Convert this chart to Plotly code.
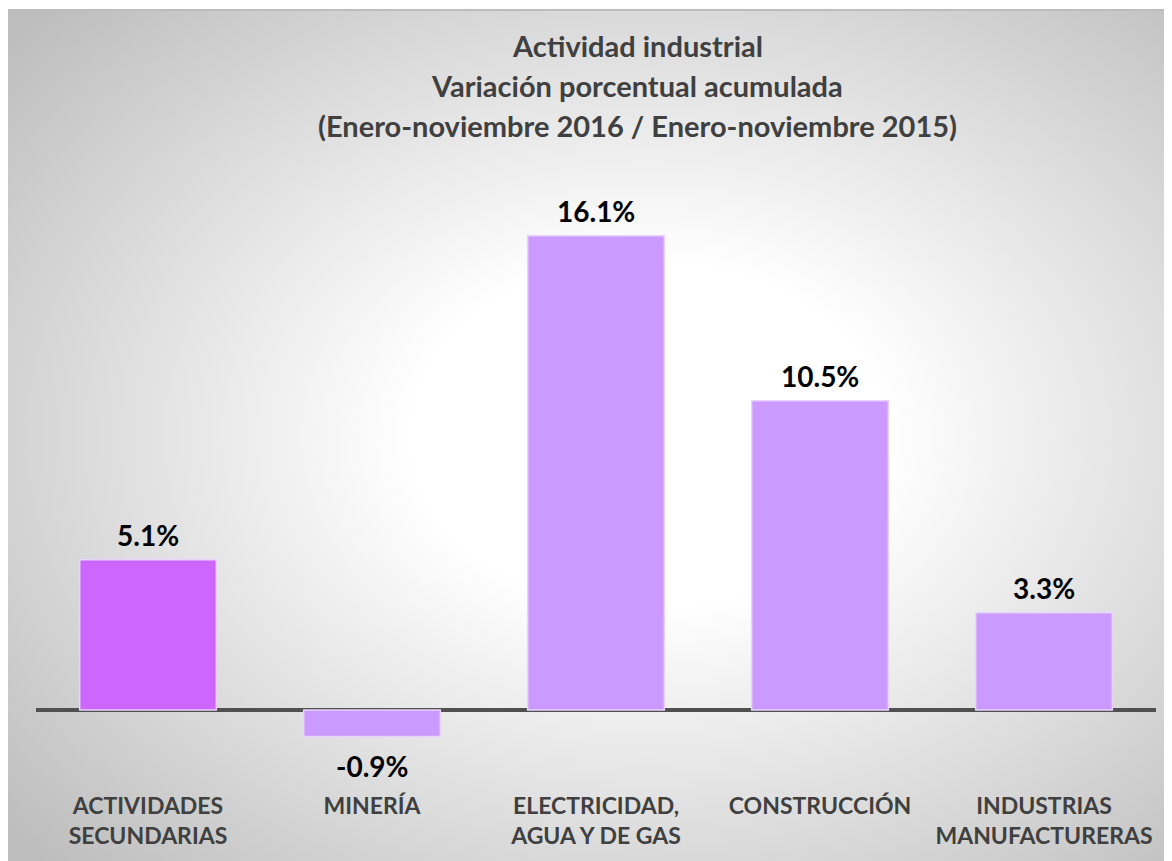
import urllib.parse
import plotly.graph_objects as go

# ---- data ----
CATEGORIES = [
    "ACTIVIDADES<br>SECUNDARIAS",
    "MINERÍA",
    "ELECTRICIDAD,<br>AGUA Y DE GAS",
    "CONSTRUCCIÓN",
    "INDUSTRIAS<br>MANUFACTURERAS",
]
VALUES = [5.1, -0.9, 16.1, 10.5, 3.3]
TITLE_LINES = [
    "Actividad industrial",
    "Variación porcentual acumulada",
    "(Enero-noviembre 2016 / Enero-noviembre 2015)",
]

# ---- styles ----
BAR_COLORS = ["#CC66FF", "#CC99FF", "#CC99FF", "#CC99FF", "#CC99FF"]
FONT = "Lato"
OFF = 8  # page body margin
W, H = 1172 - OFF, 861 - OFF
ML, MR, MT, MB = 36 - OFF, 16, 160 - OFF, 71
PW, PH = W - ML - MR, H - MT - MB


def sx(px):  # screen x -> paper x
    return (px - OFF - ML) / PW


def sy(py):  # screen y -> paper y
    return (H - MB - (py - OFF)) / PH


svg = (
    '<svg xmlns="http://www.w3.org/2000/svg" width="1166" height="852" '
    'viewBox="0 0 1166 852" preserveAspectRatio="none">'
    '<defs><radialGradient id="g" cx="0.55" cy="0.5" r="0.72" '
    'gradientUnits="objectBoundingBox">'
    '<stop offset="0" stop-color="#ffffff"/>'
    '<stop offset="0.28" stop-color="#ffffff"/>'
    '<stop offset="1" stop-color="#bdbdbd"/>'
    '</radialGradient></defs>'
    '<rect x="0" y="0" width="1166" height="852" fill="url(#g)"/></svg>'
)
svg_uri = "data:image/svg+xml;charset=utf-8," + urllib.parse.quote(svg)

fig = go.Figure(
    go.Bar(
        x=CATEGORIES,
        y=VALUES,
        marker=dict(color=BAR_COLORS, line=dict(color="#E8D2FF", width=1.5)),
        cliponaxis=False,
        width=0.61,
    )
)

for cat, v in zip(CATEGORIES, VALUES):
    fig.add_annotation(
        x=cat, y=v, xref="x", yref="y",
        text=f"{v:.1f}%", showarrow=False,
        yanchor="bottom" if v >= 0 else "top",
        yshift=6 if v >= 0 else -10,
        font=dict(family=FONT, size=28, color="#000000", weight="bold"),
    )

fig.add_layout_image(
    dict(
        source=svg_uri,
        xref="paper", yref="paper",
        x=sx(6), y=sy(9),
        sizex=(1172 - 6) / PW, sizey=(861 - 9) / PH,
        xanchor="left", yanchor="top",
        sizing="stretch", layer="below",
    )
)

fig.add_shape(
    type="rect", xref="paper", yref="paper",
    x0=sx(7), x1=sx(1180), y0=sy(10), y1=sy(870),
    line=dict(color="#BDBDBD", width=2), fillcolor="rgba(0,0,0,0)", layer="below",
)

for i, line in enumerate(TITLE_LINES):
    fig.add_annotation(
        text=line, xref="paper", yref="paper",
        x=sx(637), y=sy(46 + 40 * i),
        xanchor="center", yanchor="middle", showarrow=False,
        font=dict(family=FONT, size=29, color="#404040", weight="bold"),
    )

fig.update_layout(
    width=W, height=H,
    margin=dict(l=ML, r=MR, t=MT, b=MB),
    paper_bgcolor="#ffffff",
    plot_bgcolor="rgba(0,0,0,0)",
    showlegend=False,
    xaxis=dict(
        showgrid=False, showline=False, ticks="",
        tickfont=dict(family=FONT, size=23, color="#404040", weight="bold"),
        range=[-0.5, 4.5],
    ),
    yaxis=dict(
        range=[-80 / 29.45, 550 / 29.45],
        showgrid=False, showticklabels=False, ticks="",
        zeroline=True, zerolinecolor="#505050", zerolinewidth=3.5,
    ),
)

fig.write_html("out.html")
